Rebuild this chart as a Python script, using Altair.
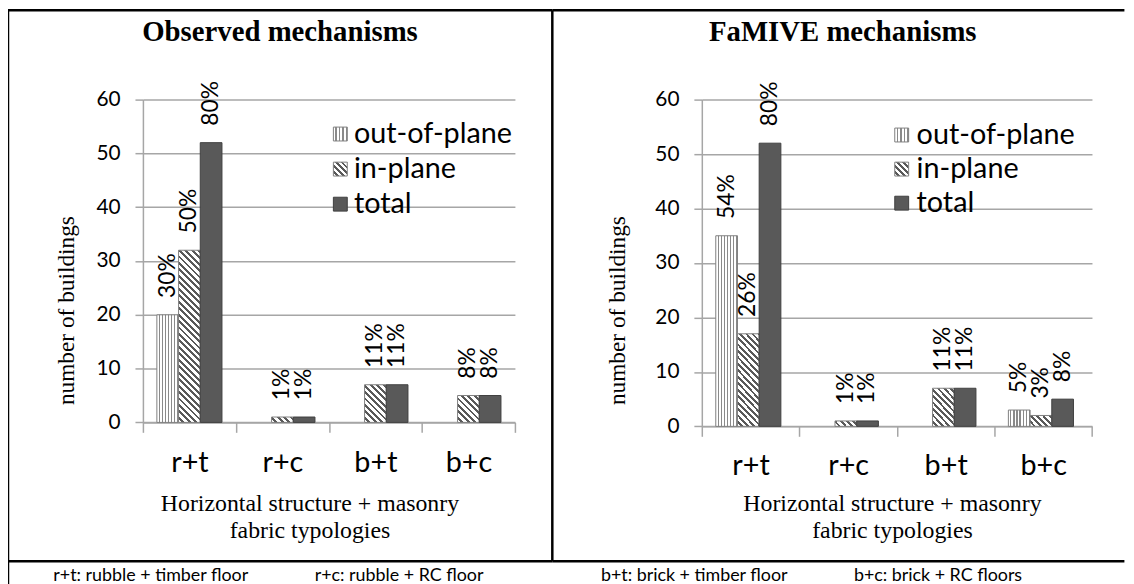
import math
import altair as alt

# ---------------- data ----------------
categories = ["r+t", "r+c", "b+t", "b+c"]
series = ["out-of-plane", "in-plane", "total"]

obs_out = [20, 0, 0, 0]
obs_in = [32, 1, 7, 5]
obs_total = [52, 1, 7, 5]
obs_out_pct = ["30%", None, None, None]
obs_in_pct = ["50%", "1%", "11%", "8%"]
obs_total_pct = ["80%", "1%", "11%", "8%"]

fam_out = [35, 0, 0, 3]
fam_in = [17, 1, 7, 2]
fam_total = [52, 1, 7, 5]
fam_out_pct = ["54%", None, None, "5%"]
fam_in_pct = ["26%", "1%", "11%", "3%"]
fam_total_pct = ["80%", "1%", "11%", "8%"]

y_ticks = [0, 10, 20, 30, 40, 50, 60]
panel_titles = ["Observed mechanisms", "FaMIVE mechanisms"]
y_title = "number of buildings"
x_title = ["Horizontal structure + masonry", "fabric typologies"]
footnotes = ["r+t: rubble + timber floor", "r+c: rubble + RC floor",
             "b+t: brick + timber floor", "b+c: brick + RC floors"]

# ---------------- styles ----------------
GRID = "#a6a6a6"
TOTAL_FILL = "#595959"
STROKES = ["#808080", "#808080", "#404040"]
SANS = "Lato"
SERIF = "Liberation Serif"
W1, H1 = 375.0, 325.4
W2, H2 = 393.3, 329.4
SPACING = 706.7 - 143.3 - W1


def vgrad(n=7, frac=0.42, col="#8a8a8a"):
    stops = []
    for k in range(n):
        a, b, c = k / n, (k + 1 - frac) / n, (k + 1) / n
        stops += [{"offset": a, "color": "white"}, {"offset": b, "color": "white"},
                  {"offset": b, "color": col}, {"offset": c, "color": col}]
    return {"gradient": "linear", "x1": 0, "y1": 0, "x2": 1, "y2": 0, "stops": stops}


def dgrad(w, h, period=4.6, frac=0.45, col="#595959"):
    dx = w * (w + h) / (w * w + h * h)
    dy = -dx * h / w
    span = (w + h) / math.sqrt(2)
    stops = []
    k = 0
    while k * period < span:
        s0, s1, s2 = k * period, (k + 1 - frac) * period, (k + 1) * period
        t0, t1, t2 = min(s0 / span, 1), min(s1 / span, 1), min(s2 / span, 1)
        stops += [{"offset": t0, "color": "white"}, {"offset": t1, "color": "white"},
                  {"offset": t1, "color": col}, {"offset": t2, "color": col}]
        k += 1
    return {"gradient": "linear", "x1": 0, "y1": 1, "x2": dx, "y2": 1 + dy, "stops": stops}


def text_layer(s, x, y, font, size, weight="normal", angle=0, align="center", baseline="alphabetic"):
    return alt.Chart(alt.Data(values=[{"t": s}])).mark_text(
        font=font, fontSize=size, fontWeight=weight, angle=angle, align=align,
        baseline=baseline, color="black"
    ).encode(x=alt.value(x), y=alt.value(y), text="t:N")


def rule_layer(x, x2, y, y2, w=2.5):
    return alt.Chart(alt.Data(values=[{}])).mark_rule(color="black", strokeWidth=w).encode(
        x=alt.value(x), x2=alt.value(x2), y=alt.value(y), y2=alt.value(y2))


def panel(vals, pcts, W, H, g):
    step = W / len(categories)
    bw = step * 0.7 / 3
    ppu = H / 60.0
    recs = []
    for i, c in enumerate(categories):
        for j, s in enumerate(series):
            v = vals[j][i]
            if j == 0:
                paint = vgrad()
            elif j == 1:
                paint = dgrad(bw, max(v * ppu, 1))
            else:
                paint = TOTAL_FILL
            recs.append({"cat": c, "series": s, "value": v, "pct": pcts[j][i], "paint": paint})
    base = alt.Chart(alt.Data(values=recs))

    xaxis = alt.Axis(title=None, tickBand="extent", labelFont=SANS, labelFontSize=29,
                     labelColor="black", labelAngle=0, labelBaseline="alphabetic",
                     labelPadding=g["xlabpad"], tickSize=10, tickColor=GRID, tickWidth=1.5,
                     domainColor=GRID, domainWidth=1.5, grid=False)
    xenc = alt.X("cat:N", sort=categories,
                 scale=alt.Scale(domain=categories, paddingInner=0, paddingOuter=0), axis=xaxis)
    xoff = alt.XOffset("series:N", sort=series,
                       scale=alt.Scale(domain=series, paddingInner=0, paddingOuter=0.643))
    yscale = alt.Scale(domain=[0, 60], nice=False, zero=True)
    yaxis = alt.Axis(title=None, values=y_ticks, grid=True, gridColor=GRID, gridWidth=1.5,
                     tickSize=8, tickColor=GRID, tickWidth=1.5, domainColor=GRID, domainWidth=1.5,
                     labelFont=SANS, labelFontSize=21, labelPadding=15, labelColor="black")
    stroke = alt.Stroke("series:N", scale=alt.Scale(domain=series, range=STROKES), legend=None)

    bars = base.mark_bar(strokeWidth=1).encode(
        x=xenc, xOffset=xoff, y=alt.Y("value:Q", scale=yscale, axis=yaxis),
        fill=alt.Fill("paint:N", scale=None), stroke=stroke,
    ).transform_filter("datum.value > 0")

    labels = base.mark_text(angle=270, align="left", baseline="middle", dx=17,
                            font=SANS, fontSize=23, color="black").encode(
        x=xenc, xOffset=xoff, y=alt.Y("value:Q", scale=yscale, axis=None), text="pct:N",
    ).transform_filter("datum.pct != null")

    legrecs = []
    for j, s in enumerate(series):
        paint = vgrad(n=4) if j == 0 else (dgrad(14, 14, period=4.2) if j == 1 else TOTAL_FILL)
        legrecs.append({"series": s, "paint": paint})
    leg = alt.Chart(alt.Data(values=legrecs))
    ly = alt.Y("series:N", sort=series,
               scale=alt.Scale(domain=series, range=[g["ly0"], g["ly2"]], padding=0), axis=None)
    sw = leg.mark_point(shape="square", filled=True, size=14 * 14, strokeWidth=1, opacity=1).encode(
        x=alt.value(g["swx"]), y=ly, fill=alt.Fill("paint:N", scale=None), stroke=stroke)
    lt = leg.mark_text(align="left", baseline="middle", font=SANS, fontSize=29, color="black").encode(
        x=alt.value(g["ltx"]), y=ly, text="series:N")

    decor = [
        text_layer(g["title"], g["titlex"], -59, SERIF, 29, weight="bold"),
        text_layer(y_title, g["ytx"], 212.7, SERIF, 23.5, angle=270, baseline="middle"),
        text_layer(x_title[0], g["xtx"], 415, SERIF, 24),
        text_layer(x_title[1], g["xtx"], 442, SERIF, 24),
        text_layer(g["foot"][0], g["fx"][0], 485.5, SANS, 18, align="left"),
        text_layer(g["foot"][1], g["fx"][1], 485.5, SANS, 18, align="left"),
    ] + [rule_layer(*r) for r in g["rules"]]

    return alt.layer(bars, labels, sw, lt, *decor).resolve_scale(y="independent").properties(
        width=W, height=H)


g1 = {
    "xlabpad": 39, "ly0": 34.7, "ly2": 105.4, "swx": 199, "ltx": 212.7,
    "title": panel_titles[0], "titlex": 138.2, "ytx": -76.3, "xtx": 168.4,
    "foot": footnotes[0:2], "fx": [-90.3, 173.2],
    "rules": [(-136, -136, -90, 490), (-136, 412.7, -90, -90),
              (412.7, 412.7, -90, 465.4), (-136, 412.7, 465.4, 465.4)],
}
g2 = {
    "xlabpad": 38.3, "ly0": 35.7, "ly2": 104.4, "swx": 201.5, "ltx": 216.5,
    "title": panel_titles[1], "titlex": 142.1, "ytx": -84.7, "xtx": 192.2,
    "foot": footnotes[2:4], "fx": [-101.7, 153.3],
    "rules": [(-150.7, 426, -90, -90), (-150.7, 426, 465.4, 465.4)],
}

p1 = panel([obs_out, obs_in, obs_total], [obs_out_pct, obs_in_pct, obs_total_pct], W1, H1, g1)
p2 = panel([fam_out, fam_in, fam_total], [fam_out_pct, fam_in_pct, fam_total_pct], W2, H2, g2)

chart = alt.hconcat(p1, p2, spacing=SPACING, bounds="flush").properties(
    padding={"left": -2, "top": -2, "right": 0, "bottom": 0}, background="white"
).configure_view(stroke=None)

chart.save("out.html", embed_options={"renderer": "svg", "actions": False})
